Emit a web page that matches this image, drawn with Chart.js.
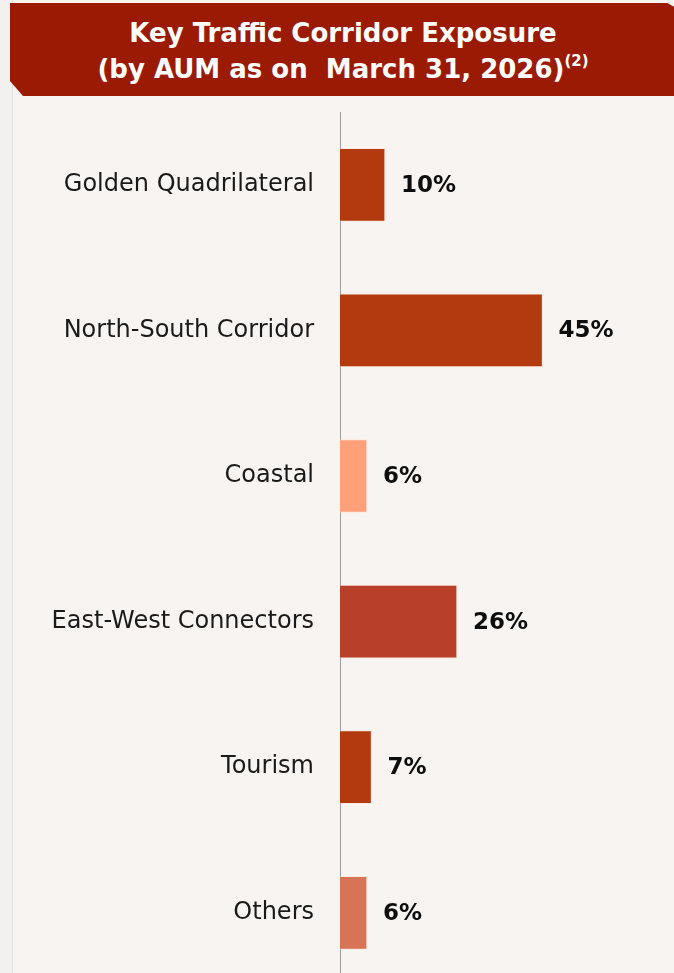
<!DOCTYPE html>
<html>
<head>
<meta charset="utf-8">
<script src="https://cdn.jsdelivr.net/npm/chart.js@4"></script>
<style>
    html, body {
        margin: 0;
        padding: 0;
        width: 674px;
        height: 973px;
        overflow: hidden;
        background: #f3f1ef;
    }
    .panel {
        position: absolute;
        left: 12px;
        top: 0;
        width: 662px;
        height: 973px;
        background: #f7f4f1;
        border-left: 1px solid #e2dfdc;
    }
    .banner {
        position: absolute;
        left: 10px;
        top: 3px;
        width: 664px;
        height: 93px;
        background: #9b1a04;
        clip-path: polygon(0 0, 99% 0, 100% 4%, 100% 100%, 13px 100%, 0 84%);
        color: #ffffff;
        font-family: 'DejaVu Sans', sans-serif;
        font-weight: 700;
        font-size: 26px;
        line-height: 36px;
        text-align: center;
        padding-top: 12px;
        padding-left: 2px;
        box-sizing: border-box;
    }
    .banner sup {
        font-size: 15px;
        line-height: 0;
        vertical-align: 12px;
    }
    #chartWrap {
        position: absolute;
        left: 0;
        top: 0;
    }
</style>
</head>
<body>
<div class="panel"></div>
<div id="chartWrap"><canvas id="corridorChart" width="674" height="1026"></canvas></div>
<div class="banner">Key Traffic Corridor Exposure<br>(by AUM as on&nbsp; March 31, 2026)<sup>(2)</sup></div>

<script>
// Chart data
const categories = ['Golden Quadrilateral', 'North-South Corridor', 'Coastal', 'East-West Connectors', 'Tourism', 'Others'];
const shares = [10, 45, 6, 26, 7, 6];
const barColors = ['#b23a0e', '#b23a0e', '#ffa07a', '#b83f2a', '#b23a0e', '#d87356'];
const valueLabels = ['10%', '45%', '6%', '26%', '7%', '6%'];

// Draws the percentage next to each bar
const valueLabelPlugin = {
    id: 'valueLabels',
    afterDatasetsDraw(chart) {
        const ctx = chart.ctx;
        const meta = chart.getDatasetMeta(0);
        ctx.save();
        ctx.font = '700 23px "DejaVu Sans", sans-serif';
        ctx.fillStyle = '#0d0d0d';
        ctx.textAlign = 'left';
        ctx.textBaseline = 'middle';
        meta.data.forEach((bar, i) => {
            ctx.fillText(valueLabels[i], bar.x + 16, bar.y + 1);
        });
        ctx.restore();
    }
};

document.addEventListener('DOMContentLoaded', function() {
    const ctx = document.getElementById('corridorChart');
    new Chart(ctx, {
        type: 'bar',
        data: {
            labels: categories,
            datasets: [{
                data: shares,
                backgroundColor: barColors,
                borderColor: 'rgba(255, 220, 200, 0.5)',
                borderWidth: 1,
                borderSkipped: 'left',
                barThickness: 73
            }]
        },
        options: {
            indexAxis: 'y',
            responsive: false,
            animation: false,
            layout: {
                padding: { top: 112, right: 64, bottom: 14, left: 0 }
            },
            plugins: {
                legend: { display: false },
                tooltip: { enabled: false }
            },
            scales: {
                x: {
                    display: false,
                    min: 0,
                    max: 60
                },
                y: {
                    afterFit: function(scale) {
                        scale.width = 340;
                    },
                    grid: {
                        display: false,
                        drawTicks: false
                    },
                    border: {
                        display: true,
                        color: '#9c9c9c',
                        width: 1
                    },
                    ticks: {
                        padding: 26,
                        color: '#1a1a1a',
                        font: {
                            family: '"DejaVu Sans", sans-serif',
                            size: 24
                        }
                    }
                }
            }
        },
        plugins: [valueLabelPlugin]
    });
});
</script>
</body>
</html>
